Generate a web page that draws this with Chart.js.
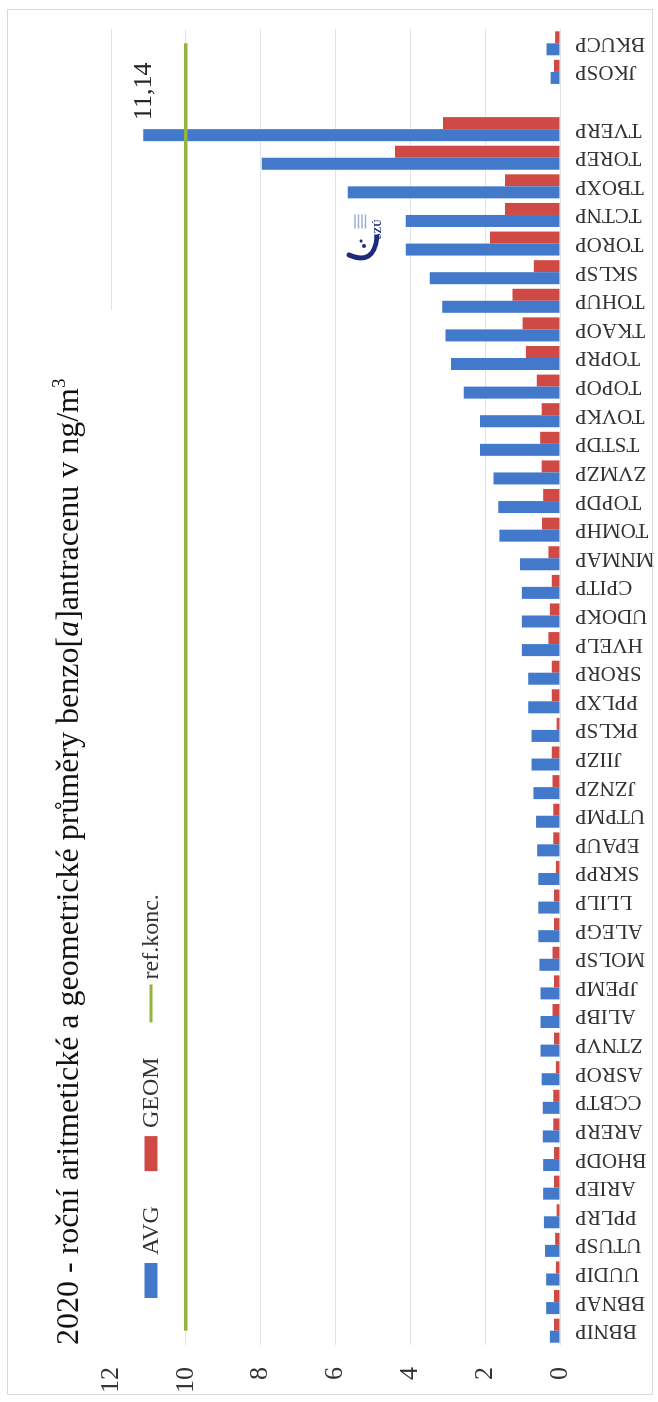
<!DOCTYPE html>
<html lang="cs">
<head>
<meta charset="utf-8">
<title>Benzo[a]antracen 2020</title>
<script src="https://cdn.jsdelivr.net/npm/chart.js@4/dist/chart.umd.min.js"></script>
<style>
  html, body { margin: 0; padding: 0; background: #fff; }
  #wrap { position: relative; width: 658px; height: 1402px; overflow: hidden; }
  /* graf se kreslí naležato a celý se otočí o 90° */
  #turn { position: absolute; left: 0; top: 0; width: 1402px; height: 658px;
          transform-origin: 0 0; transform: translate(0, 1402px) rotate(-90deg); }
</style>
</head>
<body>
<div id="wrap"><div id="turn"><canvas id="pahChart" width="1402" height="658"></canvas></div></div>
<script>
// stanice (prázdná položka = mezera mezi skupinami)
const stations = ['BBNIP', 'BBNAP', 'UUDIP', 'UTUSP', 'PPLRP', 'ARIEP', 'BHODP', 'ARERP', 'CCBTP', 'ASROP',
  'ZTNVP', 'ALIBP', 'JPEMP', 'MOLSP', 'ALEGP', 'LLILP', 'SKRPP', 'EPAUP', 'UTPMP', 'JZNZP',
  'JIIZP', 'PKLSP', 'PPLXP', 'SRORP', 'HVELP', 'UDOKP', 'CPITP', 'MNMAP', 'TOMHP', 'TOPDP',
  'ZVMZP', 'TSTDP', 'TOVKP', 'TOPOP', 'TOPRP', 'TKAOP', 'TOHUP', 'SKLSP', 'TOROP', 'TCTNP',
  'TBOXP', 'TOREP', 'TVERP', '', 'JKOSP', 'BKUCP'];

// aritmetický průměr (ng/m3)
const avgValues = [0.27, 0.37, 0.37, 0.40, 0.43, 0.45, 0.45, 0.46, 0.46, 0.49,
  0.52, 0.52, 0.52, 0.55, 0.58, 0.58, 0.58, 0.61, 0.64, 0.71,
  0.76, 0.76, 0.85, 0.85, 1.02, 1.02, 1.02, 1.07, 1.62, 1.65,
  1.78, 2.14, 2.14, 2.57, 2.91, 3.06, 3.15, 3.48, 4.12, 4.12,
  5.67, 7.97, 11.14, null, 0.25, 0.36];

// geometrický průměr (ng/m3)
const geomValues = [0.16, 0.16, 0.11, 0.13, 0.09, 0.16, 0.16, 0.18, 0.18, 0.11,
  0.16, 0.20, 0.16, 0.20, 0.16, 0.16, 0.11, 0.18, 0.18, 0.20,
  0.22, 0.09, 0.22, 0.22, 0.31, 0.27, 0.22, 0.31, 0.48, 0.45,
  0.49, 0.53, 0.49, 0.62, 0.91, 1.00, 1.27, 0.70, 1.87, 1.47,
  1.47, 4.41, 3.13, null, 0.16, 0.13];

// referenční koncentrace
const refKonc = [10, 10, 10, 10, 10, 10, 10, 10, 10, 10,
  10, 10, 10, 10, 10, 10, 10, 10, 10, 10,
  10, 10, 10, 10, 10, 10, 10, 10, 10, 10,
  10, 10, 10, 10, 10, 10, 10, 10, 10, 10,
  10, 10, 10, 10, 10, 10];

const valueTicks = [0, 2, 4, 6, 8, 10, 12];

const BLUE = '#4279cb';
const RED = '#cf4a44';
const GREEN = '#93b540';
const SERIF = "'Liberation Serif', 'DejaVu Serif', serif";

// nadpis s kurzívou a horním indexem
const titleParts = [
  { text: '2020 - roční aritmetické a geometrické průměry benzo[', font: '32px ' + SERIF },
  { text: 'a', font: 'italic 32px ' + SERIF },
  { text: ']antracenu v ng/m', font: '32px ' + SERIF },
  { text: '3', font: '19px ' + SERIF, rise: 13 }
];

const decor = {
  id: 'decor',
  beforeDatasetsDraw(chart) {
    // bílé pole pod nadpisem (zakryje horní mřížku)
    const ctx = chart.ctx;
    ctx.save();
    ctx.fillStyle = '#fff';
    ctx.fillRect(chart.chartArea.left, 8, 1092 - chart.chartArea.left, 114);
    ctx.restore();
  },
  afterDraw(chart) {
    const ctx = chart.ctx;
    ctx.save();

    // rámeček
    ctx.strokeStyle = '#d9d9d9';
    ctx.lineWidth = 1;
    ctx.strokeRect(7.5, 7.5, 1385, 645);

    // nadpis
    ctx.fillStyle = '#111';
    ctx.textBaseline = 'alphabetic';
    ctx.textAlign = 'left';
    let tx = 57;
    titleParts.forEach(p => {
      ctx.font = p.font;
      ctx.fillText(p.text, tx, 78 - (p.rise || 0));
      tx += ctx.measureText(p.text).width;
    });

    // legenda
    let lx = 104;
    const ly = 151;
    ctx.font = '24px ' + SERIF;
    ctx.textBaseline = 'middle';
    chart.data.datasets.forEach(ds => {
      if (ds.type === 'line') {
        ctx.strokeStyle = ds.borderColor;
        ctx.lineWidth = 3;
        ctx.beginPath();
        ctx.moveTo(lx, ly);
        ctx.lineTo(lx + 38, ly);
        ctx.stroke();
      } else {
        ctx.fillStyle = ds.backgroundColor;
        ctx.fillRect(lx, ly - 6.5, 35, 13);
      }
      ctx.fillStyle = '#333';
      ctx.fillText(ds.label, lx + 43, ly + 1);
      lx += 43 + ctx.measureText(ds.label).width + 35;
    });

    // popisek nejvyšší hodnoty
    const maxIdx = avgValues.indexOf(Math.max(...avgValues.filter(v => v !== null)));
    const bar = chart.getDatasetMeta(0).data[maxIdx];
    ctx.font = '26px ' + SERIF;
    ctx.fillStyle = '#222';
    ctx.fillText(avgValues[maxIdx].toFixed(2).replace('.', ','), bar.x + bar.width / 2 + 9, bar.y + 1);

    // logo SZÚ
    ctx.strokeStyle = '#1d2b7c';
    ctx.lineWidth = 5;
    ctx.lineCap = 'round';
    ctx.beginPath();
    ctx.moveTo(1147, 349);
    ctx.quadraticCurveTo(1136, 374, 1165, 377);
    ctx.stroke();
    ctx.fillStyle = '#1d2b7c';
    ctx.beginPath();
    ctx.arc(1156, 364, 2, 0, Math.PI * 2);
    ctx.arc(1161, 361, 1.6, 0, Math.PI * 2);
    ctx.fill();
    ctx.strokeStyle = '#9fb2cf';
    ctx.lineWidth = 1.5;
    for (let i = 0; i < 4; i++) {
      ctx.beginPath();
      ctx.moveTo(1174, 355 + i * 3.5);
      ctx.lineTo(1187, 355 + i * 3.5);
      ctx.stroke();
    }
    ctx.fillStyle = '#1d2b7c';
    ctx.font = 'bold 10px ' + SERIF;
    ctx.textBaseline = 'alphabetic';
    ctx.fillText('SZÚ', 1163, 381);

    ctx.restore();
  }
};

new Chart(document.getElementById('pahChart'), {
  type: 'bar',
  data: {
    labels: stations,
    datasets: [
      { label: 'AVG', data: avgValues, backgroundColor: BLUE, order: 1,
        categoryPercentage: 0.84, barPercentage: 1.0 },
      { label: 'GEOM', data: geomValues, backgroundColor: RED, order: 1,
        categoryPercentage: 0.84, barPercentage: 1.0 },
      { type: 'line', label: 'ref.konc.', data: refKonc, borderColor: GREEN, borderWidth: 3.5,
        pointRadius: 0, order: 0 }
    ]
  },
  options: {
    responsive: false,
    animation: false,
    layout: { padding: { top: 111, right: 29, bottom: 0, left: 0 } },
    plugins: {
      legend: { display: false },
      title: { display: false },
      tooltip: { enabled: false }
    },
    scales: {
      x: {
        grid: { display: false, drawTicks: false },
        border: { display: false },
        afterFit: s => { s.height = 98; },
        ticks: {
          autoSkip: false, minRotation: 90, maxRotation: 90, padding: 15,
          color: '#333', font: { family: SERIF, size: 21 }
        }
      },
      y: {
        min: 0, max: 12,
        afterBuildTicks: s => { s.ticks = valueTicks.map(v => ({ value: v })); },
        afterFit: s => { s.width = 57; },
        grid: { color: '#e4e4e4', drawTicks: false },
        border: { display: false },
        ticks: { padding: 22, color: '#333', font: { family: SERIF, size: 26 } }
      }
    }
  },
  plugins: [decor]
});
</script>
</body>
</html>
